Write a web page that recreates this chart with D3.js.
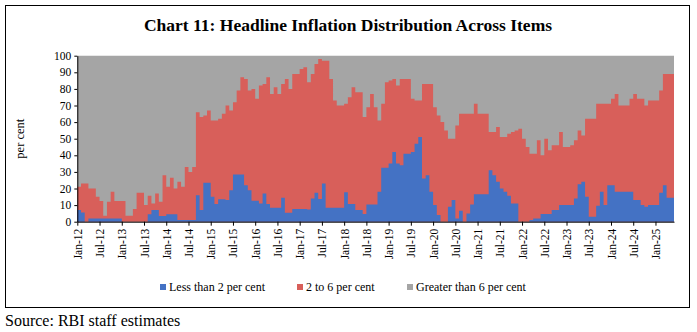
<!DOCTYPE html>
<html>
<head>
<meta charset="utf-8">
<title>Headline Inflation Distribution Across Items</title>
<script src="https://cdn.jsdelivr.net/npm/d3@7/dist/d3.min.js"></script>
<style>
  body { margin: 0; padding: 0; background: #fff; }
  svg text { font-family: "Liberation Serif", "DejaVu Serif", serif; fill: #000; }
</style>
</head>
<body>
<script>
// monthly observations, Jan-12 to May-25
var startMonth = new Date(2012, 0, 1);
var endMonth = new Date(2025, 5, 1);
var categories = d3.timeMonth.range(startMonth, endMonth).map(d3.timeFormat("%b-%y"));

var tickLabels = ["Jan-12","Jul-12","Jan-13","Jul-13","Jan-14","Jul-14","Jan-15","Jul-15",
  "Jan-16","Jul-16","Jan-17","Jul-17","Jan-18","Jul-18","Jan-19","Jul-19","Jan-20","Jul-20",
  "Jan-21","Jul-21","Jan-22","Jul-22","Jan-23","Jul-23","Jan-24","Jul-24","Jan-25"];

var yTicks = [0, 10, 20, 30, 40, 50, 60, 70, 80, 90, 100];

var seriesNames = ["Less than 2 per cent", "2 to 6 per cent", "Greater than 6 per cent"];
var seriesColors = ["#4472c4", "#d85f5a", "#a5a5a5"];

// share of items (per cent) in each inflation band
var lessThan2 = [7,5.5,0,2,2,2,2,2,2,2,2,2,0,0,0,0,0,0,0,4.5,
  7,7,3.5,3.5,4.5,4.5,4.5,1,1,1,1,1,16,7,23.5,23.5,15,10.6,13.5,13.5,
  13,19,28.5,28.5,28.5,22,19,12.6,12.6,11,17,10.6,8.4,8.4,8.4,14.5,5.4,5.4,7.6,7.6,
  7.6,7.6,7.4,14,17.5,13.7,23,8.4,8.4,8.4,8.4,8.4,17.7,10.6,10.6,7,7,4.6,10.4,10.4,
  10.4,18,32.5,32.5,35,42,35,34,41,41,42,47,51,26,28,18,10,4,0,0,
  9,13,2,6.6,0,5,10.4,16.5,16.5,16.5,16.5,31,28,24,20,18,15.7,11,11,0,
  0,0,1,2,2,4.6,4.6,4.6,7,7,10,10,10,10,14,22.5,24,15,3,3,
  9.6,18,10,22,22,18,18,18,18,18,13,13,10,9,10,10,10,17.5,22,14.5,
  14.5];

var between2and6 = [14,17.5,23,18,18,13,10.5,1.6,10,16,10.5,10.5,12.5,3.6,3.6,7.6,17.5,17.5,10,11.2,
  4,10,8.5,24.5,16.5,22,15.5,23,20,32,29,32,50,56,40.5,43.5,46,50.4,48.5,51.5,
  57,48,43.5,50.5,58.5,64,60,67.4,61.4,71,66,76.4,68.6,72.6,68.6,68.5,80.6,74.6,81.4,81.4,
  84.4,85.4,76.6,75,77.5,84.3,74,88.6,77.6,64.6,61.6,61.6,53.3,64.4,70.4,71,71,58.4,58.6,66.6,
  58.6,43,38.5,51.5,50,44,47,52,45,45,32,26,22,57,55,65,59,60,60,55,
  41,37,56,58.4,65,60,54.6,54.5,48.5,48.5,48.5,23,26,33,31,33,37.3,43,44,56,
  50,45,40,39,47,35.4,45.4,38.4,39,39,44,35,35,36,35,32.5,28,47,59,59,
  61.4,53,61,49,52,59,52,52,52,56,64,61,64,61,63,63,63,61.5,67,74.5,
  74.5];

var greaterThan6 = [79,77,77,80,80,85,87.5,96.4,88,82,87.5,87.5,87.5,96.4,96.4,92.4,82.5,82.5,90,84.3,
  89,83,88,72,79,73.5,80,76,79,67,70,67,34,37,36,33,39,39,38,35,
  30,33,28,21,13,14,21,20,26,18,17,13,23,19,23,17,14,20,11,11,
  8,7,16,11,5,2,3,3,14,27,30,30,29,25,19,22,22,37,31,23,
  31,39,29,16,15,14,18,14,14,14,26,27,27,17,17,17,31,36,40,45,
  50,50,42,35,35,35,35,29,35,35,35,46,46,43,49,49,47,46,45,44,
  50,55,59,59,51,60,50,57,54,54,46,55,55,54,51,45,48,38,38,38,
  29,29,29,29,26,23,30,30,30,26,23,26,26,30,27,27,27,21,11,11,
  11];

var W = 697, H = 332;
var margin = { left: 77.3, right: 674, top: 55.7, bottom: 221.7 };

var svg = d3.select("body").append("svg")
  .attr("width", W)
  .attr("height", H);

// outer frame
svg.append("rect")
  .attr("x", 5.5).attr("y", 5.5)
  .attr("width", 684).attr("height", 302)
  .attr("fill", "#fff")
  .attr("stroke", "#000")
  .attr("stroke-width", 1);

svg.append("text")
  .attr("x", 348).attr("y", 31)
  .attr("text-anchor", "middle")
  .attr("font-size", "17.5px")
  .attr("font-weight", "bold")
  .text("Chart 11: Headline Inflation Distribution Across Items");

var n = categories.length;
var x = d3.scaleLinear().domain([0, n]).range([margin.left, margin.right]);
var y = d3.scaleLinear().domain([0, 100]).range([margin.bottom, margin.top]);

var rows = categories.map(function(c, i) {
  return { month: c, low: lessThan2[i], mid: between2and6[i], high: greaterThan6[i] };
});
var stack = d3.stack().keys(["low", "mid", "high"]);
var layers = stack(rows);

// each band is filled from zero up to its cumulative top, painted back to front
var area = d3.area()
  .curve(d3.curveStepAfter)
  .x(function(p) { return x(p[0]); })
  .y0(y(0))
  .y1(function(p) { return y(p[1]); });

var plot = svg.append("g");
layers.slice().reverse().forEach(function(layer) {
  var pts = layer.map(function(d, i) { return [i, d[1]]; });
  pts.push([n, layer[n - 1][1]]);
  plot.append("path")
    .attr("d", area(pts))
    .attr("fill", seriesColors[layer.index]);
});

// y axis
var yAxis = svg.append("g")
  .attr("transform", "translate(" + margin.left + ",0)")
  .call(d3.axisLeft(y).tickValues(yTicks).tickSize(3).tickSizeOuter(0).tickPadding(3));
yAxis.selectAll("text").attr("font-size", "11.5px").attr("font-family", "Liberation Serif");
yAxis.select(".domain").attr("stroke", "#000");

// x axis, ticks every six months at the start of the month
var tickIdx = tickLabels.map(function(l) { return categories.indexOf(l); });
var xAxis = svg.append("g")
  .attr("transform", "translate(0," + margin.bottom + ")")
  .call(d3.axisBottom(x).tickValues(tickIdx).tickSize(4).tickSizeOuter(0)
    .tickFormat(function(i) { return categories[i]; }));
xAxis.selectAll("text")
  .attr("font-size", "11.5px")
  .attr("font-family", "Liberation Serif")
  .attr("text-anchor", "end")
  .attr("transform", "rotate(-90)")
  .attr("x", -7)
  .attr("y", 0)
  .attr("dy", "0.35em");
xAxis.select(".domain").attr("stroke", "#000");

svg.append("text")
  .attr("transform", "translate(24," + ((margin.top + margin.bottom) / 2) + ") rotate(-90)")
  .attr("text-anchor", "middle")
  .attr("font-size", "12.5px")
  .text("per cent");

// legend
var legendX = [160, 297, 407];
var legend = svg.append("g");
seriesNames.forEach(function(name, i) {
  legend.append("rect")
    .attr("x", legendX[i]).attr("y", 284)
    .attr("width", 6).attr("height", 6)
    .attr("fill", seriesColors[i]);
  legend.append("text")
    .attr("x", legendX[i] + 9).attr("y", 291)
    .attr("font-size", "12px")
    .text(name);
});

svg.append("text")
  .attr("x", 5).attr("y", 326)
  .attr("font-size", "16px")
  .text("Source: RBI staff estimates");
</script>
</body>
</html>
